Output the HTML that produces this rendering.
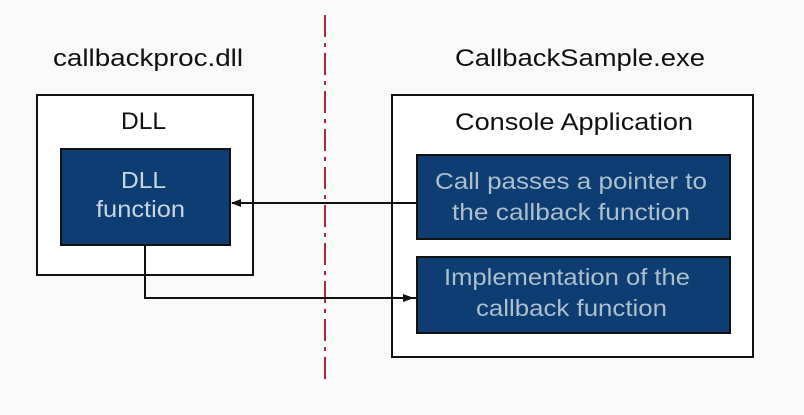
<!DOCTYPE html>
<html><head><style>
body{margin:0;background:#fafafa;}
svg text{font-family:"Liberation Sans",sans-serif;}
</style></head><body>
<svg width="804" height="410" viewBox="0 0 804 410" xmlns="http://www.w3.org/2000/svg">
<rect width="804" height="410" fill="#f9f9f9"/>
<line x1="325" y1="15" x2="325" y2="382" stroke="#a3303a" stroke-width="2" stroke-dasharray="22,6,4,6"/>
<text x="53" y="66" font-size="24" textLength="190" lengthAdjust="spacingAndGlyphs" fill="#111">callbackproc.dll</text>
<text x="455" y="66" font-size="24" textLength="250" lengthAdjust="spacingAndGlyphs" fill="#111">CallbackSample.exe</text>
<rect x="37" y="95" width="216" height="180" fill="#fff" stroke="#111" stroke-width="2"/>
<text x="121" y="129" font-size="24" textLength="45" lengthAdjust="spacingAndGlyphs" fill="#111">DLL</text>
<rect x="61" y="149" width="169" height="96" fill="#0d3d72" stroke="#111" stroke-width="2"/>
<text x="121" y="188" font-size="23" textLength="45" lengthAdjust="spacingAndGlyphs" fill="#c9d6e0">DLL</text>
<text x="96" y="217" font-size="23" textLength="89" lengthAdjust="spacingAndGlyphs" fill="#c9d6e0">function</text>
<rect x="392" y="95" width="361" height="262" fill="#fff" stroke="#111" stroke-width="2"/>
<text x="455" y="130" font-size="24" textLength="238" lengthAdjust="spacingAndGlyphs" fill="#111">Console Application</text>
<rect x="417" y="155" width="313" height="84" fill="#0d3d72" stroke="#111" stroke-width="2"/>
<text x="435" y="189" font-size="23" textLength="272" lengthAdjust="spacingAndGlyphs" fill="#aebfcc">Call passes a pointer to</text>
<text x="452" y="220" font-size="23" textLength="238" lengthAdjust="spacingAndGlyphs" fill="#aebfcc">the callback function</text>
<rect x="417" y="257" width="313" height="76" fill="#0d3d72" stroke="#111" stroke-width="2"/>
<text x="444" y="285" font-size="23" textLength="246" lengthAdjust="spacingAndGlyphs" fill="#aebfcc">Implementation of the</text>
<text x="476" y="316" font-size="23" textLength="191" lengthAdjust="spacingAndGlyphs" fill="#aebfcc">callback function</text>
<line x1="232" y1="203" x2="417" y2="203" stroke="#111" stroke-width="2"/>
<polygon points="231,203 241,199 241,207" fill="#111"/>
<polyline points="145,245 145,298 417,298" fill="none" stroke="#111" stroke-width="2"/>
<polygon points="414,298 403,294 403,302" fill="#111"/>
</svg>
</body></html>
